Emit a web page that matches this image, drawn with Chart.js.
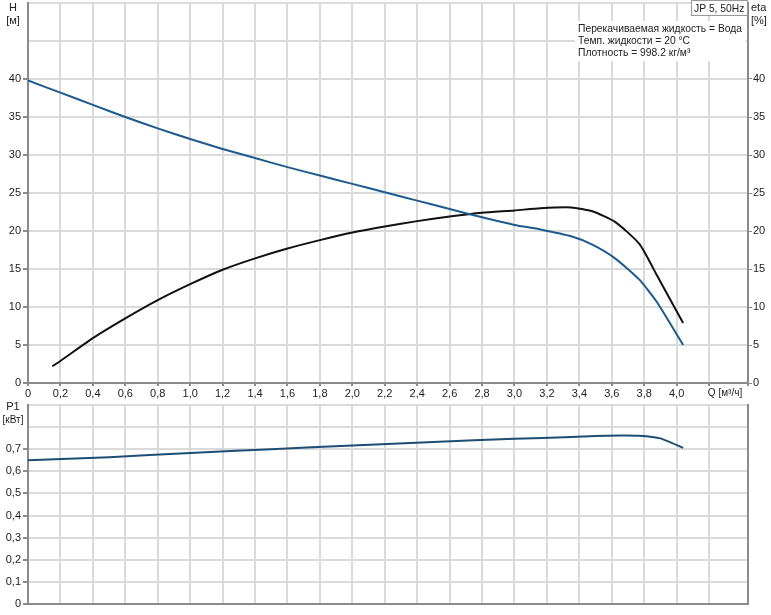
<!DOCTYPE html>
<html>
<head>
<meta charset="utf-8">
<script src="https://cdn.jsdelivr.net/npm/chart.js@4/dist/chart.umd.min.js"></script>
<style>
  html, body { margin: 0; padding: 0; background: #fff; }
  #wrap { position: relative; width: 771px; height: 615px; overflow: hidden; }
  #c1 { position: absolute; left: 0; top: 0; }
  #c2 { position: absolute; left: 0; top: 396px; }
</style>
</head>
<body>
<div id="wrap">
  <canvas id="c1" width="771" height="400"></canvas>
  <canvas id="c2" width="771" height="219"></canvas>
</div>
<script>
// ---- Data ----
const headQ   = [0, 0.2, 0.4, 0.6, 0.8, 1.0, 1.2, 1.4, 1.6, 1.8, 2.0, 2.2, 2.4, 2.6, 2.8, 3.0, 3.16, 3.35, 3.48, 3.62, 3.77, 3.88, 4.04];
const headH   = [39.8, 38.2, 36.6, 35.0, 33.5, 32.1, 30.8, 29.6, 28.4, 27.3, 26.2, 25.1, 24.0, 22.9, 21.8, 20.8, 20.2, 19.3, 18.2, 16.4, 13.6, 10.6, 5.0];
const etaQ    = [0.15, 0.2, 0.4, 0.6, 0.8, 1.0, 1.2, 1.4, 1.6, 1.8, 2.0, 2.2, 2.4, 2.6, 2.8, 3.0, 3.16, 3.35, 3.48, 3.62, 3.77, 3.88, 4.04];
const etaVal  = [2.2, 2.9, 5.9, 8.5, 10.9, 13.0, 14.9, 16.4, 17.7, 18.8, 19.8, 20.6, 21.3, 21.9, 22.4, 22.7, 23.0, 23.1, 22.6, 21.2, 18.3, 14.1, 7.9];
const powerQ  = [0, 0.5, 1.0, 1.5, 2.0, 2.5, 3.0, 3.35, 3.5, 3.65, 3.77, 3.9, 4.04];
const powerP1 = [0.650, 0.664, 0.683, 0.700, 0.717, 0.733, 0.747, 0.755, 0.760, 0.762, 0.761, 0.749, 0.706];
const qTicksMax = 4.0;     // last labelled Q tick
const hTicksMax = 40;      // last labelled H / eta tick
const pTicksMax = 0.7;     // last labelled P1 tick
const infoLines = ['Перекачиваемая жидкость = Вода', 'Темп. жидкости = 20 °C', 'Плотность = 998.2 кг/м³'];
const pumpTitle = 'JP 5, 50Hz';

// ---- Styles ----
const FONT = "'Liberation Sans', Arial, sans-serif";
Chart.defaults.font.family = FONT;
Chart.defaults.font.size = 11;
Chart.defaults.color = '#222';
const GRID = '#dadada';
const AXIS = '#8a8a8a';
const fmt = v => (Math.abs(v) < 1e-9 ? '0' : v.toFixed(1).replace('.', ','));
const pts = (xs, ys) => xs.map((x, i) => ({ x: x, y: ys[i] }));
const fixW = w => s => { s.width = w; s.paddingTop = 0; s.paddingBottom = 0; };
const fixH = h => s => { s.height = h; s.paddingLeft = 0; s.paddingRight = 0; };

const xScaleBase = (showLabels, h) => ({
  type: 'linear', min: 0, max: 4.44,
  afterFit: fixH(h),
  border: { display: true, color: AXIS, width: 2 },
  grid: { color: GRID, lineWidth: 2, tickLength: showLabels ? 3 : 0, tickColor: AXIS, drawTicks: showLabels },
  ticks: {
    display: showLabels, stepSize: 0.2, autoSkip: false, maxRotation: 0, padding: 1,
    callback: v => (v <= qTicksMax + 0.01 ? fmt(v) : '')
  }
});

// ---- Top chart ----
const topText = {
  id: 'topText',
  afterDraw(chart) {
    const c = chart.ctx;
    c.save();
    c.font = '11px ' + FONT;
    c.fillStyle = '#222';
    c.textBaseline = 'middle';
    c.textAlign = 'center';
    c.fillText('H', 13, 8);
    c.fillText('[м]', 13, 21);
    c.textAlign = 'left';
    c.fillText('eta', 751, 8);
    c.fillText('[%]', 751, 21);
    // info block
    c.font = '10.3px ' + FONT;
    c.fillStyle = '#fff';
    c.fillRect(575, 21, 171, 40);
    c.fillStyle = '#222';
    infoLines.forEach((t, i) => c.fillText(t, 578, 29 + i * 12));
    // title box
    c.fillStyle = '#fff';
    c.fillRect(691, 0, 56, 16);
    c.strokeStyle = '#999';
    c.lineWidth = 1;
    c.strokeRect(691.5, 0.5, 56, 15);
    c.fillStyle = '#222';
    c.fillText(pumpTitle, 694, 9);
    // Q axis label
    c.font = '10px ' + FONT;
    c.textAlign = 'center';
    c.fillText('Q [м³/ч]', 725, 393);
    c.restore();
  }
};

new Chart(document.getElementById('c1'), {
  type: 'line',
  data: {
    datasets: [
      { label: 'H', data: pts(headQ, headH), borderColor: '#1f5a8c', borderWidth: 2, pointRadius: 0, tension: 0.2, yAxisID: 'y' },
      { label: 'eta', data: pts(etaQ, etaVal), borderColor: '#111', borderWidth: 2, pointRadius: 0, tension: 0.2, yAxisID: 'y2' }
    ]
  },
  options: {
    responsive: false, animation: false,
    layout: { padding: { top: 3, left: 0, right: 0, bottom: 0 } },
    plugins: { legend: { display: false }, tooltip: { enabled: false } },
    scales: {
      x: xScaleBase(true, 17),
      y: {
        type: 'linear', position: 'left', min: 0, max: 50,
        afterFit: fixW(28),
        border: { display: true, color: AXIS, width: 2 },
        grid: { color: GRID, lineWidth: 2, tickLength: 5,
                tickColor: ctx => (ctx.tick && ctx.tick.value > hTicksMax ? 'rgba(0,0,0,0)' : AXIS) },
        ticks: { stepSize: 5, padding: 2, callback: v => (v <= hTicksMax ? String(v) : '') }
      },
      y2: {
        type: 'linear', position: 'right', min: 0, max: 50,
        afterFit: fixW(23),
        border: { display: true, color: AXIS, width: 2 },
        grid: { drawOnChartArea: false, tickLength: 4,
                tickColor: ctx => (ctx.tick && ctx.tick.value > hTicksMax ? 'rgba(0,0,0,0)' : AXIS) },
        ticks: { stepSize: 5, padding: 1, callback: v => (v <= hTicksMax ? String(v) : '') }
      }
    }
  },
  plugins: [topText]
});

// ---- Bottom chart ----
const bottomText = {
  id: 'bottomText',
  afterDraw(chart) {
    const c = chart.ctx;
    c.save();
    c.font = '11px ' + FONT;
    c.fillStyle = '#222';
    c.textBaseline = 'middle';
    c.textAlign = 'center';
    c.fillText('P1', 13, 11);
    c.font = '10px ' + FONT;
    c.fillText('[кВт]', 13, 24);
    c.restore();
  }
};

new Chart(document.getElementById('c2'), {
  type: 'line',
  data: {
    datasets: [
      { label: 'P1', data: pts(powerQ, powerP1), borderColor: '#1c4e74', borderWidth: 2, pointRadius: 0, tension: 0.15, yAxisID: 'y' }
    ]
  },
  options: {
    responsive: false, animation: false,
    layout: { padding: { top: 9, left: 0, right: 0, bottom: 0 } },
    plugins: { legend: { display: false }, tooltip: { enabled: false } },
    scales: {
      x: xScaleBase(false, 11),
      y: {
        type: 'linear', position: 'left', min: 0, max: 0.9,
        afterFit: fixW(28),
        border: { display: true, color: AXIS, width: 2 },
        grid: { color: GRID, lineWidth: 2, tickLength: 5,
                tickColor: ctx => (ctx.tick && ctx.tick.value > pTicksMax + 0.01 ? 'rgba(0,0,0,0)' : AXIS) },
        ticks: { stepSize: 0.1, padding: 2, callback: v => (v <= pTicksMax + 0.01 ? fmt(v) : '') }
      },
      yr: {
        type: 'linear', position: 'right', min: 0, max: 0.9,
        afterFit: fixW(23),
        border: { display: true, color: AXIS, width: 2 },
        grid: { drawOnChartArea: false, drawTicks: false, tickLength: 0 },
        ticks: { display: false }
      }
    }
  },
  plugins: [bottomText]
});
</script>
</body>
</html>
